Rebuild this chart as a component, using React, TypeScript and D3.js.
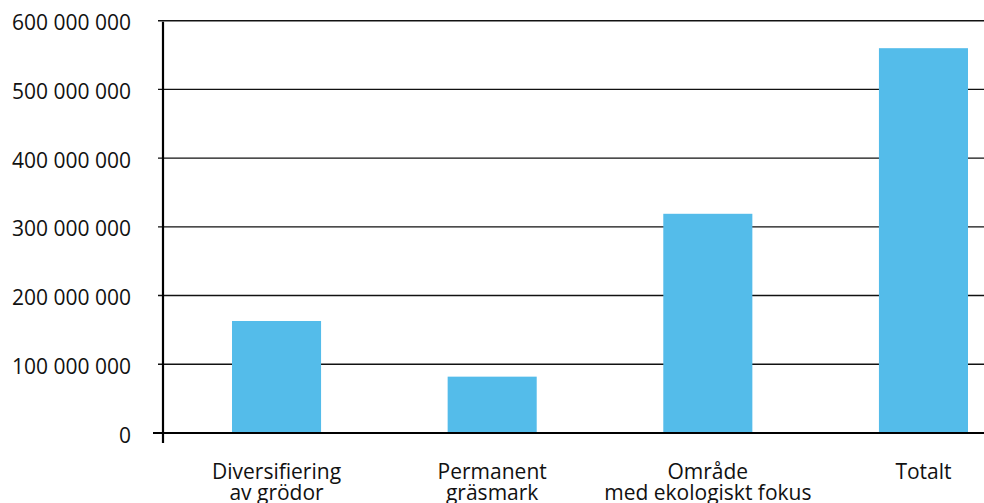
import React from "react";
import * as d3 from "d3";

const categories: string[][] = [
  ["Diversifiering", "av grödor"],
  ["Permanent", "gräsmark"],
  ["Område", "med ekologiskt fokus"],
  ["Totalt"],
];
const values: number[] = [163000000, 82000000, 319000000, 560000000];
const yTicks: number[] = [0, 100000000, 200000000, 300000000, 400000000, 500000000, 600000000];

const W = 984;
const H = 503;
const axisX = 163;
const y0 = 433;
const yTop = 20.7;

export default function App() {
  const keys = categories.map((c) => c.join(" "));
  const x = d3.scaleBand<string>().domain(keys).range([232, 968]).paddingInner(0.587).paddingOuter(0);
  const y = d3.scaleLinear().domain([0, 600000000]).range([y0, yTop]);
  const fmt = (v: number) => d3.format(",")(v).replace(/,/g, " ");
  const font = "'Open Sans', sans-serif";
  return (
    <svg width={W} height={H} style={{ position: "absolute", left: 0, top: 0, background: "#fff" }}>
      {yTicks.map((t) => (
        <g key={t}>
          {t !== 0 && (
            <line x1={158} x2={W} y1={y(t)} y2={y(t)} stroke="#111" strokeWidth={1.4} />
          )}
          <text
            x={131}
            y={y(t) + 9.5}
            textAnchor="end"
            fontFamily={font}
            fontSize={21}
            fill="#111"
          >
            {fmt(t)}
          </text>
        </g>
      ))}
      {values.map((v, i) => (
        <rect
          key={i}
          x={x(keys[i])}
          y={y(v)}
          width={x.bandwidth()}
          height={y(0) - y(v)}
          fill="#54BCEA"
        />
      ))}
      <line x1={153} x2={W} y1={y(0)} y2={y(0)} stroke="#000" strokeWidth={2.2} />
      <line x1={axisX} x2={axisX} y1={yTop + 1} y2={443} stroke="#000" strokeWidth={2.2} />
      {categories.map((lines, i) => (
        <text
          key={i}
          x={(x(keys[i]) as number) + x.bandwidth() / 2}
          y={479}
          textAnchor="middle"
          fontFamily={font}
          fontSize={21}
          fill="#111"
        >
          {lines.map((l, j) => (
            <tspan key={j} x={(x(keys[i]) as number) + x.bandwidth() / 2} dy={j === 0 ? 0 : 21}>
              {l}
            </tspan>
          ))}
        </text>
      ))}
    </svg>
  );
}
